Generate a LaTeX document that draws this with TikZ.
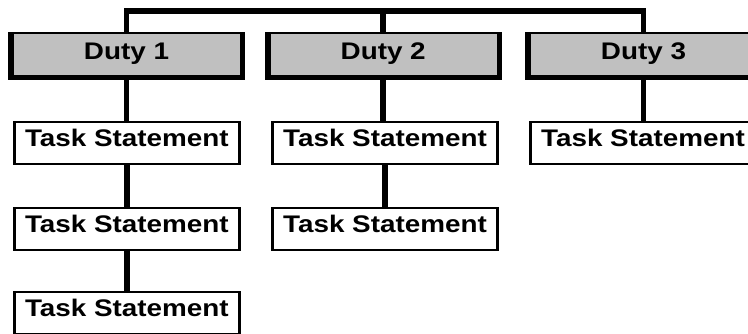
\documentclass[tikz,border=0pt]{standalone}
\usepackage{fontspec}
\setmainfont{Liberation Sans}
\definecolor{dutygray}{RGB}{192,192,192}
\tikzset{
  basefont/.style={font=\bfseries\fontsize{24}{28}\selectfont},
  taskbox/.style={rectangle, draw=black, line width=2.5pt, fill=white, inner sep=0pt,
    minimum width=224.7pt, minimum height=41.8pt, text height=24pt, text depth=17pt, basefont},
  dutybox/.style={rectangle, draw=black, line width=2pt, fill=dutygray, inner sep=0pt,
    minimum width=235pt, minimum height=46pt, text height=23.6pt, text depth=17pt, basefont,
    path picture={
      \fill[black] (path picture bounding box.south west) rectangle ([xshift=5pt]path picture bounding box.north west);
      \fill[black] (path picture bounding box.south west) rectangle ([yshift=4pt]path picture bounding box.south east);
      \fill[black] (path picture bounding box.south east) rectangle ([xshift=-4pt]path picture bounding box.north east);
    }},
  conn/.style={line width=5.5pt, line join=miter, draw=black}
}
\newcommand{\wide}[1]{\scalebox{1.16}[1]{#1}}
\begin{document}
\begin{tikzpicture}[x=1pt,y=-1pt]
  \useasboundingbox (0,0) rectangle (748,333);
  \clip (0,0) rectangle (748,333);
  % duties
  \node[dutybox] (d1) at (126.5,56) {\wide{Duty 1}\hspace{4pt}};
  \node[dutybox] (d2) at (383.2,56) {\wide{Duty 2}\hspace{4pt}};
  \node[dutybox] (d3) at (643.5,56) {\wide{Duty 3}\hspace{4pt}};
  % tasks
  \node[taskbox] (t11) at (126.9,142.85) {\wide{Task Statement}};
  \node[taskbox] (t12) at (126.9,228.85) {\wide{Task Statement}};
  \node[taskbox] (t13) at (126.9,312.85) {\wide{Task Statement}};
  \node[taskbox] (t21) at (385,142.85) {\wide{Task Statement}};
  \node[taskbox] (t22) at (385,228.85) {\wide{Task Statement}};
  \node[taskbox] (t31) at (643,142.85) {\wide{Task Statement}};
  % bus
  \coordinate (bus) at (0,10.8);
  \draw[conn] (d1.north) -- (d1.north |- bus) -- (d3.north |- bus) -- (d3.north);
  \draw[conn] (d2.north) -- (d2.north |- bus);
  % verticals
  \draw[conn] (d1.south) -- (d1.south |- t11.north);
  \draw[conn] (t11.south) -- (t11.south |- t12.north);
  \draw[conn] (t12.south) -- (t12.south |- t13.north);
  \draw[conn] (d2.south) -- (d2.south |- t21.north);
  \draw[conn] (t21.south) -- (t21.south |- t22.north);
  \draw[conn] (d3.south) -- (d3.south |- t31.north);
\end{tikzpicture}
\end{document}
